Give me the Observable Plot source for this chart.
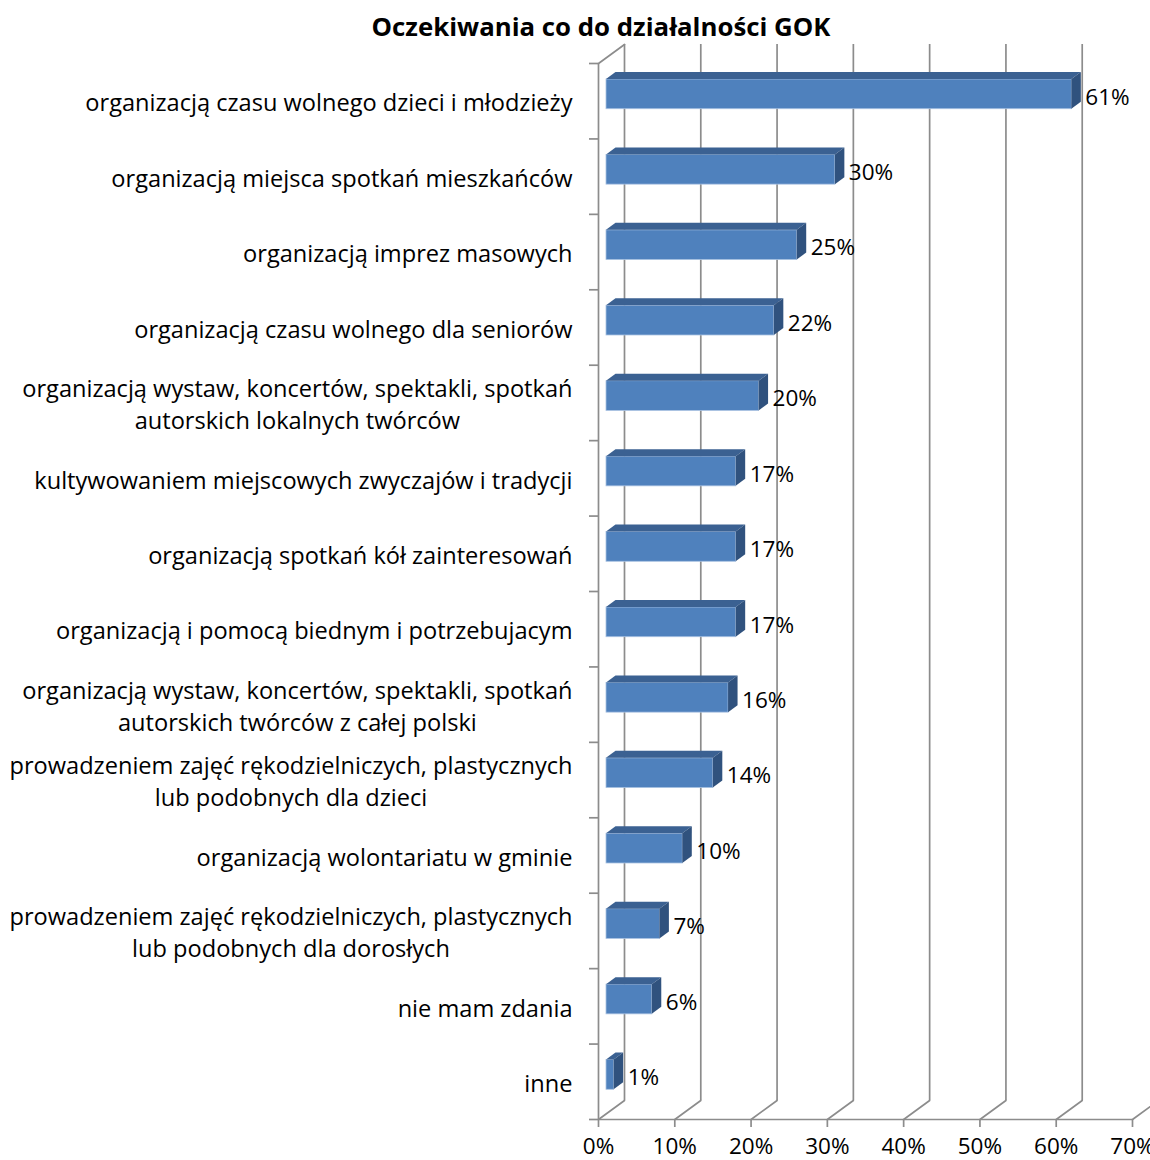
<!DOCTYPE html>
<html>
<head>
<meta charset="utf-8">
<script src="https://cdn.jsdelivr.net/npm/d3@7"></script>
<script src="https://cdn.jsdelivr.net/npm/@observablehq/plot@0.6"></script>
<style>
  body { margin: 0; background: #fff; }
  #title { height: 44px; box-sizing: border-box; padding-top: 9px; padding-left: 52px; text-align: center;
           font: bold 25.8px "Open Sans", sans-serif; line-height: 34px; color: #000; }
  #chart svg { display: block; }
</style>
</head>
<body>
<div id="title"></div>
<div id="chart"></div>
<script>
const title = "Oczekiwania co do działalności GOK";

const categories = [
  "organizacją czasu wolnego dzieci i młodzieży",
  "organizacją miejsca spotkań mieszkańców",
  "organizacją imprez masowych",
  "organizacją czasu wolnego dla seniorów",
  "organizacją wystaw, koncertów, spektakli, spotkań\nautorskich lokalnych twórców",
  "kultywowaniem miejscowych zwyczajów i tradycji",
  "organizacją spotkań kół zainteresowań",
  "organizacją i pomocą biednym i potrzebujacym",
  "organizacją wystaw, koncertów, spektakli, spotkań\nautorskich twórców z całej polski",
  "prowadzeniem zajęć rękodzielniczych, plastycznych\nlub podobnych dla dzieci",
  "organizacją wolontariatu w gminie",
  "prowadzeniem zajęć rękodzielniczych, plastycznych\nlub podobnych dla dorosłych",
  "nie mam zdania",
  "inne"
];

const values = [61, 30, 25, 22, 20, 17, 17, 17, 16, 14, 10, 7, 6, 1];

const valueLabels = ["61%", "30%", "25%", "22%", "20%", "17%", "17%", "17%", "16%", "14%", "10%", "7%", "6%", "1%"];

const xTicks = [0, 10, 20, 30, 40, 50, 60, 70];
const xTickLabels = ["0%", "10%", "20%", "30%", "40%", "50%", "60%", "70%"];

// ---- styling ----
const FONT = "'Open Sans', sans-serif";
const FS = 22.5;        // numbers
const CAT_FS = 23.6;    // category labels
const GRID = "#8c8c8c";
const FRONT = "#4f81bd";
const TOP = "#3b6192";
const SIDE = "#30527e";
const WALL_DX = 26, WALL_DY = -19;       // depth of the walls/floor (px)
const BAR_DX = 8;                          // bars sit a little into the depth
const BAR_DEPTH_X = 9.5, BAR_DEPTH_Y = -7; // bar thickness (px)
const BAR_TOP = 0.212, BAR_BOT = 0.606;    // bar position inside each band

document.getElementById("title").textContent = title;

const data = categories.map((c, i) => ({category: c, value: values[i], label: valueLabels[i], idx: i}));

const canvasCtx = document.createElement("canvas").getContext("2d");
canvasCtx.font = `${CAT_FS}px "Open Sans"`;
const textWidth = s => Math.max(...s.split("\n").map(l => canvasCtx.measureText(l).width));

const lineShape = {draw(context, l) { context.moveTo(0, 0); context.lineTo(0, -l); }};
const depthLen = Math.hypot(WALL_DX, WALL_DY);
const depthAngle = Math.atan2(WALL_DX, -WALL_DY) * 180 / Math.PI;

// top and side faces of the 3D bars, positioned with the plot's scales
const barFaces = (index, scales) => {
  const sx = scales.x, sy = scales.y;
  const g = d3.create("svg:g");
  for (const d of data) {
    const x0 = sx(0) + BAR_DX, x1 = sx(d.value) + BAR_DX;
    const yt = sy(d.idx + BAR_TOP), yb = sy(d.idx + BAR_BOT);
    g.append("polygon")
      .attr("points", [[x0, yt], [x1, yt], [x1 + BAR_DEPTH_X, yt + BAR_DEPTH_Y], [x0 + BAR_DEPTH_X, yt + BAR_DEPTH_Y]].join(" "))
      .attr("fill", TOP);
    g.append("polygon")
      .attr("points", [[x1, yt], [x1 + BAR_DEPTH_X, yt + BAR_DEPTH_Y], [x1 + BAR_DEPTH_X, yb + BAR_DEPTH_Y], [x1, yb]].join(" "))
      .attr("fill", SIDE);
  }
  return g.node();
};

const categoryMarks = categories.map((c, i) =>
  Plot.text([c], {
    frameAnchor: "left",
    y: [i + 0.5],
    text: d => d,
    textAnchor: "middle",
    dx: -(26 + textWidth(c) / 2),
    dy: 0,
    fontSize: CAT_FS,
    lineHeight: 32 / CAT_FS,
    fill: "#000"
  })
);

const chart = Plot.plot({
  width: 1150,
  height: 1116,
  marginTop: 19,
  marginBottom: 41,
  marginLeft: 598,
  marginRight: 18,
  x: {type: "linear", domain: [0, 70], label: null},
  y: {type: "linear", domain: [0, 14], range: [19, 1075], label: null},
  style: {fontFamily: FONT, fontSize: FS + "px", color: "#000", background: "#fff", overflow: "visible"},
  marks: [
    // back wall gridlines
    Plot.ruleX(xTicks, {x: d => d, dx: WALL_DX, dy: WALL_DY, stroke: GRID, strokeWidth: 1.7}),
    // floor diagonals
    Plot.vector(xTicks, {x: d => d, y: 14, length: depthLen, rotate: depthAngle, anchor: "start",
      shape: lineShape, stroke: GRID, strokeWidth: 1.7}),
    // left wall top diagonal
    Plot.vector([0], {x: d => d, y: 0, length: depthLen, rotate: depthAngle, anchor: "start",
      shape: lineShape, stroke: GRID, strokeWidth: 1.7}),
    // left wall front edge & floor front edge
    Plot.ruleX([0], {stroke: GRID, strokeWidth: 1.7}),
    Plot.ruleY([14], {stroke: GRID, strokeWidth: 1.7}),
    Plot.axisY({ticks: d3.range(15), tickSize: 9, tickFormat: () => "", stroke: GRID, strokeWidth: 1.7}),
    Plot.axisX({ticks: xTicks, tickFormat: d => xTickLabels[xTicks.indexOf(d)], tickSize: 8, tickPadding: 11,
      stroke: GRID, strokeWidth: 1.7, fill: "#000", fontSize: FS}),
    // bars: front faces
    Plot.rect(data, {x1: 0, x2: "value", y1: d => d.idx + BAR_TOP, y2: d => d.idx + BAR_BOT, dx: BAR_DX,
      fill: FRONT, stroke: "#a9c2e2", strokeWidth: 0.8}),
    // bars: top and side faces
    barFaces,
    // value labels
    Plot.text(data, {x: "value", y: d => d.idx + (BAR_TOP + BAR_BOT) / 2, text: "label", textAnchor: "start",
      dx: BAR_DX + BAR_DEPTH_X + 4, dy: 3, fontSize: FS, fill: "#000"}),
    ...categoryMarks
  ]
});

document.getElementById("chart").append(chart);
</script>
</body>
</html>
